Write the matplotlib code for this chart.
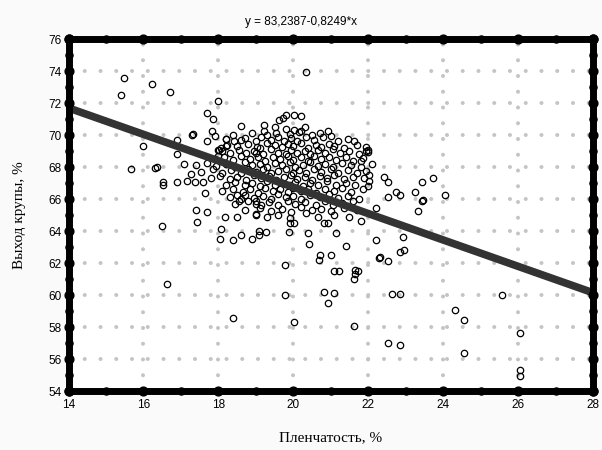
import numpy as np
import matplotlib
matplotlib.use('Agg')
import matplotlib.pyplot as plt

# regression from the chart title
B0 = 83.2387
B1 = -0.8249
X_RANGE = (14, 28)
Y_RANGE = (54, 76)
X_TICKS = [14, 16, 18, 20, 22, 24, 26, 28]
Y_TICKS = [54, 56, 58, 60, 62, 64, 66, 68, 70, 72, 74, 76]

# scattered points away from the core
outer_pts = [
    (15.47, 73.59), (15.39, 72.47), (16.22, 73.18), (16.70, 72.66), (18.00, 72.14),
    (15.98, 69.33), (15.68, 67.88), (16.31, 67.94), (16.35, 67.98), (16.89, 69.70),
    (17.29, 70.02), (17.33, 70.04), (17.71, 71.37), (17.85, 71.00), (16.89, 68.82),
    (17.07, 68.19), (17.26, 67.59), (17.71, 69.60), (17.83, 70.22), (17.91, 69.91),
    (18.20, 69.75), (18.00, 69.08), (18.20, 69.33), (16.52, 67.07), (16.52, 66.90),
    (16.89, 67.07), (17.15, 67.11), (17.37, 67.07), (17.60, 67.07), (17.65, 66.39),
    (20.35, 73.95),
    (17.44, 64.55), (18.08, 64.10), (18.04, 63.52), (18.38, 63.41), (18.60, 63.74),
    (18.90, 63.52), (19.09, 64.00), (19.09, 63.74), (19.27, 63.93), (19.88, 63.93),
    (19.90, 64.47), (20.03, 64.47), (20.39, 63.90), (20.41, 63.17), (20.81, 64.47),
    (20.93, 64.47), (21.15, 63.85), (21.42, 63.06), (20.70, 62.48), (20.69, 62.19),
    (21.00, 62.48), (21.10, 61.50), (21.22, 61.50), (21.64, 61.56), (21.73, 61.50),
    (21.64, 61.30), (21.62, 60.98), (19.79, 61.86), (19.79, 60.00), (20.81, 60.19),
    (21.10, 60.11), (20.93, 59.49), (18.38, 58.54), (20.03, 58.29), (21.63, 58.04),
    (22.22, 63.43), (22.29, 62.33), (16.50, 64.29), (16.62, 60.71), (17.41, 65.33),
    (17.71, 65.16), (18.19, 64.89), (18.49, 66.22), (18.60, 66.01), (18.56, 65.86),
    (19.00, 65.86), (19.00, 65.66), (19.00, 64.99),
    (21.82, 68.36), (22.02, 67.48), (22.02, 67.11), (22.00, 66.80), (22.43, 67.36),
    (22.53, 67.07), (22.74, 66.45), (22.85, 66.22), (22.53, 66.11), (23.25, 66.45),
    (23.43, 67.07), (23.74, 67.32), (23.43, 65.86), (23.45, 65.95), (23.32, 65.24),
    (24.04, 66.22), (22.22, 65.41), (21.82, 64.62), (22.94, 63.64), (22.85, 62.71),
    (22.95, 62.81), (22.31, 62.37), (22.53, 62.12), (22.64, 60.09), (22.85, 60.09),
    (25.57, 60.00), (24.32, 59.05), (24.56, 58.45), (26.05, 57.60), (22.53, 56.98),
    (22.85, 56.87), (24.56, 56.37), (26.05, 55.33), (26.05, 54.96),
    (18.60, 70.54), (18.20, 69.77), (18.38, 70.02), (18.42, 69.64), (18.60, 69.70),
    (18.22, 69.35), (18.02, 69.08), (18.07, 69.19), (18.11, 68.98), (18.00, 68.67),
    (19.02, 69.25), (19.00, 68.88), (19.63, 70.95), (19.72, 71.06), (19.81, 71.22),
    (20.03, 71.22), (20.21, 71.16), (19.23, 70.64), (19.50, 70.47), (19.21, 70.27),
    (19.81, 70.37), (20.01, 70.33), (20.32, 70.47), (20.21, 70.22), (20.93, 70.22),
    (21.02, 69.91), (21.62, 69.60), (21.95, 68.98), (21.99, 69.08),
]

# dense core of the cloud
core_pts = [
    (18.9, 70.1), (19.3, 70.0), (19.55, 70.15), (19.9, 70.05), (20.15, 70.2), (20.5, 70.0), (20.7, 70.1),
    (18.7, 69.8), (19.0, 69.65), (19.15, 69.9), (19.4, 69.7), (19.6, 69.85), (19.75, 69.6), (19.95, 69.8),
    (20.1, 69.65), (20.35, 69.9), (20.55, 69.7), (20.8, 69.85), (21.2, 69.6), (21.45, 69.75),
    (18.5, 69.3), (18.8, 69.45), (19.1, 69.2), (19.3, 69.5), (19.5, 69.35), (19.7, 69.25), (19.85, 69.45),
    (20.0, 69.3), (20.2, 69.5), (20.4, 69.2), (20.6, 69.4), (20.75, 69.25), (20.95, 69.45), (21.1, 69.3),
    (21.35, 69.2), (21.7, 69.4), (21.95, 69.25),
    (18.3, 68.9), (18.55, 69.05), (18.75, 68.85), (18.95, 69.0), (19.2, 68.8), (19.4, 69.1), (19.6, 68.9),
    (19.8, 68.8), (19.95, 69.05), (20.1, 68.85), (20.3, 69.0), (20.45, 68.8), (20.65, 69.05), (20.85, 68.9),
    (21.05, 69.1), (21.25, 68.85), (21.5, 69.0), (21.75, 68.8), (22.0, 68.95),
    (17.9, 68.5), (18.15, 68.65), (18.4, 68.45), (18.6, 68.7), (18.85, 68.5), (19.05, 68.6), (19.25, 68.4),
    (19.45, 68.65), (19.65, 68.5), (19.85, 68.7), (20.0, 68.45), (20.2, 68.6), (20.4, 68.4), (20.55, 68.7),
    (20.75, 68.5), (20.95, 68.65), (21.15, 68.45), (21.4, 68.6), (21.6, 68.4), (21.85, 68.55),
    (17.4, 68.1), (17.7, 68.25), (17.95, 68.05), (18.2, 68.2), (18.45, 68.0), (18.7, 68.3), (18.9, 68.1),
    (19.1, 68.2), (19.3, 68.0), (19.5, 68.25), (19.7, 68.1), (19.9, 68.3), (20.05, 68.0), (20.25, 68.15),
    (20.45, 68.3), (20.65, 68.05), (20.85, 68.2), (21.05, 68.0), (21.3, 68.25), (21.55, 68.1), (21.8, 68.0),
    (22.1, 68.2),
    (17.55, 67.7), (17.85, 67.85), (18.1, 67.65), (18.35, 67.8), (18.6, 67.6), (18.8, 67.9), (19.0, 67.7),
    (19.2, 67.85), (19.4, 67.6), (19.6, 67.75), (19.8, 67.9), (20.0, 67.65), (20.15, 67.8), (20.35, 67.6),
    (20.55, 67.85), (20.75, 67.7), (21.0, 67.9), (21.2, 67.65), (21.45, 67.8), (21.7, 67.6), (21.95, 67.75),
    (17.8, 67.3), (18.05, 67.45), (18.3, 67.25), (18.5, 67.4), (18.75, 67.2), (18.95, 67.5), (19.15, 67.3),
    (19.35, 67.45), (19.55, 67.2), (19.75, 67.35), (19.95, 67.5), (20.1, 67.25), (20.3, 67.4), (20.5, 67.2),
    (20.7, 67.45), (20.9, 67.3), (21.1, 67.5), (21.35, 67.25), (21.6, 67.4), (21.9, 67.3),
    (18.2, 66.9), (18.45, 67.05), (18.7, 66.85), (18.9, 67.0), (19.1, 66.8), (19.3, 67.1), (19.5, 66.9),
    (19.7, 67.0), (19.9, 66.85), (20.05, 67.05), (20.25, 66.8), (20.45, 67.0), (20.65, 66.9), (20.9, 67.1),
    (21.15, 66.85), (21.4, 67.0), (21.65, 66.9),
    (18.1, 66.5), (18.4, 66.65), (18.65, 66.45), (18.85, 66.6), (19.05, 66.4), (19.25, 66.7), (19.45, 66.5),
    (19.65, 66.6), (19.85, 66.45), (20.0, 66.7), (20.2, 66.5), (20.4, 66.6), (20.6, 66.4), (20.85, 66.65),
    (21.1, 66.5), (21.3, 66.7), (21.55, 66.45), (21.85, 66.6),
    (18.3, 66.1), (18.7, 66.25), (18.95, 66.05), (19.2, 66.2), (19.4, 66.0), (19.6, 66.3), (19.8, 66.1),
    (20.0, 66.2), (20.2, 66.0), (20.45, 66.25), (20.7, 66.1), (20.95, 66.3), (21.2, 66.05), (21.45, 66.2),
    (21.75, 66.0),
    (18.45, 65.7), (18.8, 65.85), (19.15, 65.65), (19.35, 65.8), (19.6, 65.6), (19.85, 65.9), (20.05, 65.7),
    (20.3, 65.8), (20.6, 65.65), (20.85, 65.85), (21.05, 65.6), (21.3, 65.75), (21.6, 65.9),
    (18.7, 65.3), (19.1, 65.45), (19.4, 65.25), (19.7, 65.4), (19.95, 65.2), (20.2, 65.5), (20.5, 65.3),
    (20.75, 65.4), (21.0, 65.25), (21.35, 65.45), (21.7, 65.3),
    (18.5, 64.9), (19.0, 65.05), (19.3, 64.85), (19.6, 65.0), (19.9, 64.8), (20.35, 65.1), (20.65, 64.9),
    (21.1, 65.0), (21.5, 64.85),
]

pts = np.array(outer_pts + core_pts)
husk = pts[:, 0]
grits = pts[:, 1]

fig = plt.figure(figsize=(6.02, 4.5), dpi=100, facecolor='#fafafa')
ax = fig.add_axes([68.5 / 602, 1 - 391 / 450, (593 - 68.5) / 602, (391 - 39) / 450])
ax.set_facecolor('white')

# dotted grid
ax.grid(True, color='#c4c4c4', linewidth=2.9, linestyle=(0, (0.01, 3.9)),
        dash_capstyle='round', zorder=0)

ax.plot(husk, grits, 'o', ms=4.6, mfc='none', mec='black', mew=0.9, zorder=2)

xl = np.array(X_RANGE, dtype=float)
ax.plot(xl, B0 + B1 * xl, color='#333333', lw=5.5, solid_capstyle='butt', zorder=3)

ax.set_xlim(X_RANGE)
ax.set_ylim(Y_RANGE)
ax.set_xticks(X_TICKS)
ax.set_yticks(Y_TICKS)
ax.tick_params(length=0, labelsize=8.5, pad=6)
ax.tick_params(axis='y', pad=5)
for lab in ax.get_xticklabels() + ax.get_yticklabels():
    lab.set_family('Liberation Sans')

for sp in ax.spines.values():
    sp.set_linewidth(5)
    sp.set_capstyle('round')
    sp.set_zorder(5)

# round tick knobs sitting on the frame
x_major = np.array(X_TICKS, dtype=float)
x_minor = x_major[:-1] + 1
y_major = np.array(Y_TICKS, dtype=float)
y_minor = y_major[:-1] + 1
for xs, sz in ((x_major, 40), (x_minor, 26)):
    ax.scatter(xs, np.full_like(xs, Y_RANGE[0]), s=sz, c='black', clip_on=False, zorder=6)
    ax.scatter(xs, np.full_like(xs, Y_RANGE[1]), s=sz, c='black', clip_on=False, zorder=6)
for ys, sz in ((y_major, 40), (y_minor, 26)):
    ax.scatter(np.full_like(ys, X_RANGE[0]), ys, s=sz, c='black', clip_on=False, zorder=6)
    ax.scatter(np.full_like(ys, X_RANGE[1]), ys, s=sz, c='black', clip_on=False, zorder=6)

fig.text(0.5, 1 - 22 / 450, 'y = 83,2387-0,8249*x', ha='center', va='center',
         fontsize=8.5, family='Liberation Sans')
fig.text(331 / 602, 1 - 438 / 450, 'Пленчатость, %', ha='center', va='center',
         fontsize=11, family='Liberation Serif')
fig.text(20 / 602, 1 - 215 / 450, 'Выход крупы, %', ha='center', va='center',
         rotation=90, fontsize=11, family='Liberation Serif')

fig.savefig('out.png', dpi=100, facecolor=fig.get_facecolor())
